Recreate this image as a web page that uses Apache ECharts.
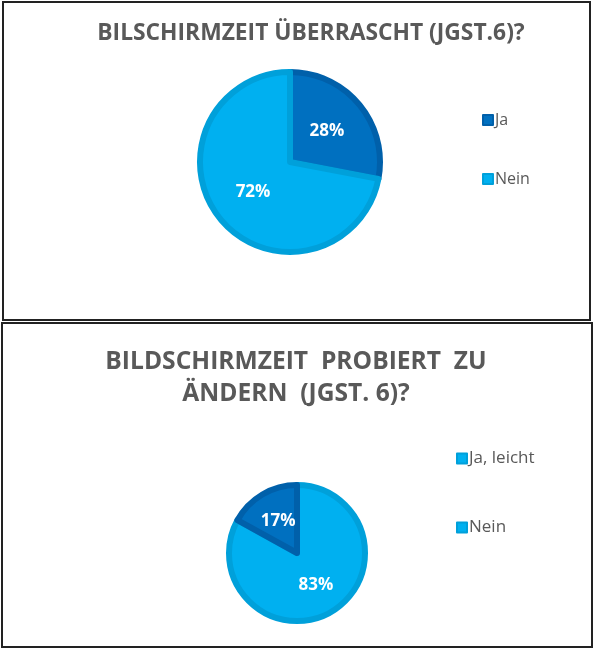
<!DOCTYPE html>
<html>
<head>
    <meta charset="UTF-8"/>
    <title>Bildschirmzeit</title>
    <script src="https://cdn.jsdelivr.net/npm/echarts@6/dist/echarts.min.js"></script>
    <style>
        html, body { margin: 0; padding: 0; background: #fff; }
    </style>
</head>
<body>
<div id="main" style="width: 595px;height:650px;"></div>
<script>
    // Daten
    var titel1 = 'BILSCHIRMZEIT ÜBERRASCHT (JGST.6)?';
    var kategorien1 = ['Ja', 'Nein'];
    var werte1 = [28, 72];

    var titel2 = 'BILDSCHIRMZEIT  PROBIERT  ZU\nÄNDERN  (JGST. 6)?';
    var kategorien2 = ['Ja, leicht', 'Nein'];
    var werte2 = [83, 17];

    var dunkel = { color: '#0070C0', borderColor: '#0060AA' };
    var hell = { color: '#00B0F0', borderColor: '#00A0DA' };

    var farben1 = [dunkel, hell];
    var farben2 = [hell, dunkel];

    function daten(kat, werte, farben) {
        return kat.map(function (name, i) {
            return {
                name: name,
                value: werte[i],
                itemStyle: { color: farben[i].color, borderColor: farben[i].borderColor, borderWidth: 6 }
            };
        });
    }

    var myChart = echarts.init(document.getElementById('main'));

    var titelStil = {
        fontFamily: 'Open Sans',
        fontWeight: 'bold',
        color: '#595959'
    };

    var labelStil = {
        position: 'inside',
        formatter: '{d}%',
        color: '#ffffff',
        fontFamily: 'Open Sans',
        fontWeight: 'bold',
        fontSize: 17
    };

    var option = {
        backgroundColor: '#ffffff',
        animation: false,
        title: [
            {
                text: titel1,
                left: 306,
                top: 17,
                textAlign: 'center',
                textStyle: Object.assign({ fontSize: 22.8 }, titelStil)
            },
            {
                text: titel2,
                left: 291,
                top: 341,
                textAlign: 'center',
                textStyle: Object.assign({ fontSize: 24.6, lineHeight: 32 }, titelStil)
            }
        ],
        legend: [
            {
                data: kategorien1,
                orient: 'vertical',
                left: 482,
                top: 112,
                padding: 0,
                itemWidth: 10,
                itemHeight: 10,
                itemGap: 43,
                icon: 'rect',
                textStyle: { fontFamily: 'Open Sans', fontSize: 16, color: '#595959', padding: [0, 0, 0, -3] }
            },
            {
                data: kategorien2,
                orient: 'vertical',
                left: 456,
                top: 450,
                padding: 0,
                itemWidth: 10,
                itemHeight: 10,
                itemGap: 52,
                icon: 'rect',
                textStyle: { fontFamily: 'Open Sans', fontSize: 17, color: '#595959', padding: [0, 0, 0, -3] }
            }
        ],
        graphic: [
            {
                type: 'rect',
                shape: { x: 3, y: 2, width: 587, height: 318 },
                style: { fill: 'none', stroke: '#222', lineWidth: 2 }
            },
            {
                type: 'rect',
                shape: { x: 2, y: 323, width: 590, height: 324 },
                style: { fill: 'none', stroke: '#222', lineWidth: 2 }
            }
        ],
        series: [
            {
                name: titel1,
                type: 'pie',
                center: [290, 162],
                radius: 90,
                startAngle: 90,
                clockwise: true,
                label: labelStil,
                labelLine: { show: false },
                emphasis: { disabled: true },
                data: daten(kategorien1, werte1, farben1)
            },
            {
                name: titel2,
                type: 'pie',
                center: [297, 553],
                radius: 68,
                startAngle: 90,
                clockwise: true,
                label: labelStil,
                labelLine: { show: false },
                emphasis: { disabled: true },
                data: daten(kategorien2, werte2, farben2)
            }
        ]
    };

    myChart.setOption(option);
</script>
</body>
</html>
